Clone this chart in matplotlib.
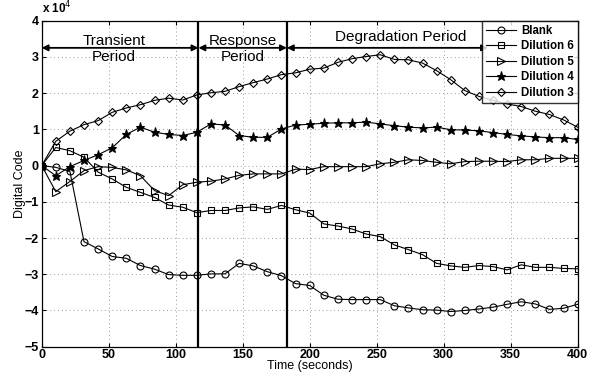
import numpy as np
import matplotlib
matplotlib.use("Agg")
import matplotlib.pyplot as plt

plt.rcParams['font.family'] = ['Liberation Sans', 'DejaVu Sans']

n_points = 39
time_s = np.linspace(0, 400, n_points)

blank = [0, -0.05, -0.16, -2.10, -2.30, -2.51, -2.56, -2.76, -2.86, -3.01,
         -3.03, -3.03, -2.99, -2.99, -2.70, -2.77, -2.93, -3.04, -3.26, -3.31,
         -3.58, -3.69, -3.70, -3.70, -3.70, -3.87, -3.93, -3.98, -3.99, -4.03,
         -4.00, -3.96, -3.91, -3.83, -3.76, -3.82, -3.97, -3.94, -3.83]
dil6 = [0, 0.50, 0.41, 0.23, -0.18, -0.37, -0.60, -0.74, -0.88, -1.09,
        -1.15, -1.30, -1.24, -1.24, -1.17, -1.14, -1.21, -1.10, -1.22, -1.31,
        -1.61, -1.67, -1.75, -1.89, -1.96, -2.19, -2.32, -2.46, -2.70, -2.77,
        -2.81, -2.76, -2.79, -2.88, -2.74, -2.81, -2.81, -2.84, -2.85]
dil5 = [0, -0.72, -0.44, -0.14, -0.03, -0.05, -0.12, -0.28, -0.69, -0.83,
        -0.53, -0.46, -0.43, -0.37, -0.27, -0.23, -0.23, -0.23, -0.10, -0.11,
        -0.03, -0.03, -0.03, -0.03, 0.05, 0.09, 0.16, 0.14, 0.09, 0.05,
        0.11, 0.12, 0.12, 0.11, 0.16, 0.16, 0.20, 0.20, 0.20]
dil4 = [0, -0.28, -0.03, 0.14, 0.30, 0.49, 0.86, 1.06, 0.92, 0.86,
        0.83, 0.92, 1.15, 1.12, 0.83, 0.78, 0.78, 1.01, 1.12, 1.14,
        1.17, 1.18, 1.18, 1.20, 1.15, 1.10, 1.06, 1.04, 1.06, 0.99,
        0.98, 0.96, 0.91, 0.86, 0.82, 0.79, 0.77, 0.77, 0.72]
dil3 = [0, 0.67, 0.95, 1.13, 1.24, 1.47, 1.59, 1.68, 1.80, 1.86,
        1.81, 1.95, 2.01, 2.05, 2.18, 2.29, 2.39, 2.51, 2.56, 2.66,
        2.69, 2.85, 2.95, 3.01, 3.06, 2.93, 2.92, 2.83, 2.62, 2.37,
        2.07, 1.91, 1.80, 1.70, 1.63, 1.50, 1.41, 1.26, 1.06]

series_names = ["Blank", "Dilution 6", "Dilution 5", "Dilution 4", "Dilution 3"]
period_bounds = [0, 117, 183, 333]
scale = 1e4

fig = plt.figure(figsize=(5.92, 3.76), dpi=100)
ax = fig.add_axes([0.0704, 0.078, 0.9054, 0.867])

styles = [
    dict(marker='o', mfc='none', ms=5),
    dict(marker='s', mfc='none', ms=4.5),
    dict(marker='>', mfc='none', ms=5.5),
    dict(marker='*', mfc='black', ms=6.5),
    dict(marker='D', mfc='none', ms=4.5),
]
for data, name, st in zip([blank, dil6, dil5, dil4, dil3], series_names, styles):
    ax.plot(time_s, np.array(data) * scale, color='black', lw=0.8,
            mec='black', mew=0.8, label=name, **st)

for xb in period_bounds[1:3]:
    ax.axvline(xb, color='black', lw=1.6)

arrow_y = 3.25 * scale
for (x0, x1) in zip(period_bounds[:-1], period_bounds[1:]):
    ax.annotate('', xy=(x0, arrow_y), xytext=(x1, arrow_y),
                arrowprops=dict(arrowstyle='<|-|>', color='black', lw=1.3,
                                mutation_scale=9, shrinkA=0, shrinkB=0))

ax.text(54, 3.45 * scale, "Transient", ha='center', va='center', fontsize=11)
ax.text(54, 3.0 * scale, "Period", ha='center', va='center', fontsize=11)
ax.text(150, 3.45 * scale, "Response", ha='center', va='center', fontsize=11)
ax.text(150, 3.0 * scale, "Period", ha='center', va='center', fontsize=11)
ax.text(268, 3.55 * scale, "Degradation Period", ha='center', va='center', fontsize=11)

ax.set_xlim(0, 400)
ax.set_ylim(-5 * scale, 4 * scale)
ax.set_xticks(np.arange(0, 401, 50))
ax.set_yticks(np.arange(-5, 5, 1) * scale)
ax.set_yticklabels([("\u2212%d" % -v) if v < 0 else "%d" % v for v in range(-5, 5)])
for lbl in ax.get_xticklabels() + ax.get_yticklabels():
    lbl.set_fontweight('bold')
    lbl.set_fontsize(9)
ax.tick_params(direction='in', top=True, right=True, length=3, width=0.8, pad=2)
ax.grid(True, color='#999999', linestyle=(0, (1, 3)), lw=0.7)
for sp in ax.spines.values():
    sp.set_linewidth(0.9)

ax.text(0.0, 1.012, r"x 10$^{4}$", transform=ax.transAxes, fontsize=8.5,
        fontweight='bold', ha='left', va='bottom')
ax.set_xlabel("Time (seconds)", fontsize=9, labelpad=-1)
ax.set_ylabel("Digital Code", fontsize=9, labelpad=-1)

leg = ax.legend(loc='upper right', bbox_to_anchor=(1.0, 1.0),
                prop=dict(weight='bold', size=8.3), frameon=True, fancybox=False,
                edgecolor='black', borderaxespad=0, handlelength=2.6,
                labelspacing=0.3, borderpad=0.35, handletextpad=0.4)
leg.get_frame().set_linewidth(1.0)

fig.savefig("out.png", dpi=100)
